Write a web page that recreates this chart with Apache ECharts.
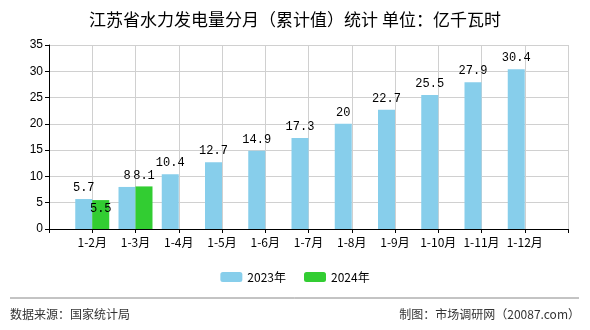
<!DOCTYPE html>
<html>
<head>
<meta charset="utf-8">
<script src="https://cdn.jsdelivr.net/npm/echarts@6/dist/echarts.min.js"></script>
<style>
  html, body { margin: 0; padding: 0; background: #fff; }
  #chart { width: 590px; height: 330px; }
</style>
</head>
<body>
<div id="chart"></div>
<script>
// Monthly cumulative hydropower output, Jiangsu (100 million kWh)
const months = ['1-2月', '1-3月', '1-4月', '1-5月', '1-6月', '1-7月', '1-8月', '1-9月', '1-10月', '1-11月', '1-12月'];
const values2023 = [5.7, 8, 10.4, 12.7, 14.9, 17.3, 20, 22.7, 25.5, 27.9, 30.4];
const values2024 = [5.5, 8.1];
const yTicks = [0, 5, 10, 15, 20, 25, 30, 35];

// padded category axis: an empty slot on each end
const categories = [''].concat(months, ['']);
const pad = (arr) => {
  const out = [null];
  for (let i = 0; i < months.length; i++) out.push(i < arr.length ? arr[i] : null);
  out.push(null);
  return out;
};

const labelFont = { fontFamily: 'Liberation Mono, DejaVu Sans Mono, monospace', fontSize: 12, color: '#000' };
const cjk = 'SimSun, "Noto Sans CJK SC", sans-serif';

const data2024 = pad(values2024).map((v, i) =>
  v === null ? null : (i === 1 ? { value: v, label: { position: 'insideTop', distance: 3 } } : v)
);

const chart = echarts.init(document.getElementById('chart'));
chart.setOption({
  animation: false,
  title: {
    text: '江苏省水力发电量分月（累计值）统计 单位：亿千瓦时',
    left: 'center',
    top: 6,
    textStyle: { fontFamily: cjk, fontSize: 17, fontWeight: 'normal', color: '#000' }
  },
  legend: {
    bottom: 42,
    left: 'center',
    itemWidth: 22,
    itemHeight: 10,
    itemGap: 18,
    textStyle: { fontFamily: cjk, fontSize: 12, color: '#000' },
    data: ['2023年', '2024年']
  },
  grid: { left: 49, right: 22, top: 45, bottom: 101 },
  xAxis: {
    type: 'category',
    data: categories,
    boundaryGap: false,
    axisLine: { lineStyle: { color: '#000' } },
    axisTick: { lineStyle: { color: '#000' }, length: 4 },
    axisLabel: { interval: 0, fontFamily: cjk, fontSize: 12, color: '#000', margin: 7 },
    splitLine: { show: true, lineStyle: { color: '#d0d0d0' } }
  },
  yAxis: {
    type: 'value',
    min: yTicks[0],
    max: yTicks[yTicks.length - 1],
    interval: 5,
    axisLine: { show: true, lineStyle: { color: '#000' } },
    axisTick: { show: true, lineStyle: { color: '#000' }, length: 4 },
    axisLabel: { fontFamily: 'Liberation Sans, Arial, sans-serif', fontSize: 12, color: '#000', margin: 6 },
    splitLine: { lineStyle: { color: '#d0d0d0' } }
  },
  series: [
    {
      name: '2023年',
      type: 'bar',
      data: pad(values2023),
      barWidth: 17,
      barGap: '0%',
      itemStyle: { color: '#87CEEB' },
      label: { show: true, position: 'top', distance: 5, ...labelFont }
    },
    {
      name: '2024年',
      type: 'bar',
      data: data2024,
      barWidth: 17,
      barGap: '0%',
      itemStyle: { color: '#32CD32' },
      label: { show: true, position: 'top', distance: 5, ...labelFont }
    }
  ],
  graphic: [
    { type: 'line', shape: { x1: 10, y1: 298, x2: 579, y2: 298 }, style: { stroke: '#888', lineWidth: 1 } },
    { type: 'text', left: 10, top: 308, style: { text: '数据来源：国家统计局', font: '12px ' + cjk, fill: '#333' } },
    { type: 'text', right: 10, top: 308, style: { text: '制图：市场调研网（20087.com）', font: '12px ' + cjk, fill: '#333' } }
  ]
});
</script>
</body>
</html>
